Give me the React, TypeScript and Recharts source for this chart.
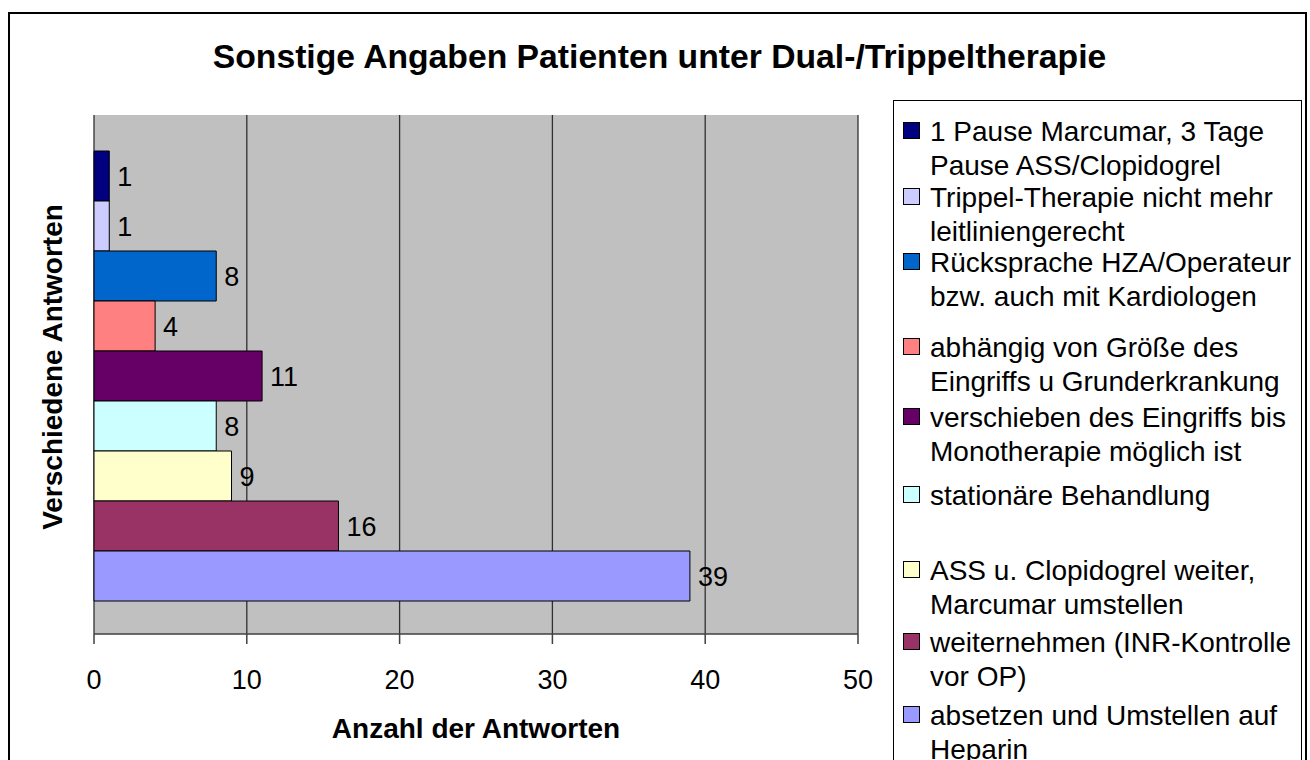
import { BarChart, Bar, XAxis, YAxis, CartesianGrid, LabelList } from 'recharts';

// chart data
const CATEGORIES = ['Verschiedene Antworten'];

const SERIES_NAMES = [
  '1 Pause Marcumar, 3 Tage Pause ASS/Clopidogrel',
  'Trippel-Therapie nicht mehr leitliniengerecht',
  'Rücksprache HZA/Operateur bzw. auch mit Kardiologen',
  'abhängig von Größe des Eingriffs u Grunderkrankung',
  'verschieben des Eingriffs bis Monotherapie möglich ist',
  'stationäre Behandlung',
  'ASS u. Clopidogrel weiter, Marcumar umstellen',
  'weiternehmen (INR-Kontrolle vor OP)',
  'absetzen und Umstellen auf Heparin',
];

// legend text as wrapped in the original
const LEGEND_LINES = [
  ['1 Pause Marcumar, 3 Tage', 'Pause ASS/Clopidogrel'],
  ['Trippel-Therapie nicht mehr', 'leitliniengerecht'],
  ['Rücksprache HZA/Operateur', 'bzw. auch mit Kardiologen'],
  ['abhängig von Größe des', 'Eingriffs u Grunderkrankung'],
  ['verschieben des Eingriffs bis', 'Monotherapie möglich ist'],
  ['stationäre Behandlung'],
  ['ASS u. Clopidogrel weiter,', 'Marcumar umstellen'],
  ['weiternehmen (INR-Kontrolle', 'vor OP)'],
  ['absetzen und Umstellen auf', 'Heparin'],
];

const SERIES_VALUES = [1, 1, 8, 4, 11, 8, 9, 16, 39];

const SERIES_COLORS = [
  '#000080',
  '#CCCCFF',
  '#0066CC',
  '#FF8080',
  '#660066',
  '#CCFFFF',
  '#FFFFCC',
  '#993366',
  '#9999FF',
];

const X_TICKS = [0, 10, 20, 30, 40, 50];

const TITLE = 'Sonstige Angaben Patienten unter Dual-/Trippeltherapie';
const X_TITLE = 'Anzahl der Antworten';
const Y_TITLE = 'Verschiedene Antworten';

// ---------------------------------------------------------------------------

const FONT = '"Liberation Sans", Arial, sans-serif';

// one row per category, one key per series
const data = CATEGORIES.map((name) => {
  const row: Record<string, string | number> = { name };
  SERIES_VALUES.forEach((v, i) => {
    row[`s${i}`] = v;
  });
  return row;
});

// first-line centre of each legend entry (px)
const LEGEND_TOPS = [131, 197, 262, 347, 417, 495, 570, 642, 715];
const LEGEND_LINE = 34;

function ChartLegend() {
  return (
    <g fontFamily={FONT} fontSize={28} fill="#000">
      <rect x={893.5} y={100.5} width={408} height={700} fill="#fff" stroke="#000" strokeWidth={1} />
      {LEGEND_LINES.map((lines, i) => {
        const cy = LEGEND_TOPS[i];
        return (
          <g key={SERIES_NAMES[i]}>
            <rect
              x={903.5}
              y={cy - 8.5}
              width={16}
              height={16}
              fill={SERIES_COLORS[i]}
              stroke="#000"
              strokeWidth={1}
            />
            {lines.map((line, j) => (
              <text key={j} x={930} y={cy + j * LEGEND_LINE + 10}>
                {line}
              </text>
            ))}
          </g>
        );
      })}
    </g>
  );
}

export default function App() {
  return (
    <div
      style={{
        position: 'absolute',
        left: 0,
        top: 0,
        width: 1310,
        height: 760,
        overflow: 'hidden',
        background: '#fff',
        fontFamily: FONT,
      }}
    >
      {/* outer chart frame, runs past the bottom edge */}
      <div
        style={{
          position: 'absolute',
          left: 8,
          top: 12,
          width: 1299,
          height: 820,
          border: '2px solid #000',
          boxSizing: 'border-box',
        }}
      />

      <div style={{ position: 'absolute', left: 0, top: 0 }}>
        <BarChart
          width={1310}
          height={760}
          data={data}
          layout="vertical"
          margin={{ top: 115, right: 452, bottom: 66, left: 94 }}
          barCategoryGap={36}
          barGap={0}
        >
          <CartesianGrid horizontal={false} stroke="#303030" strokeWidth={1.3} fill="#C0C0C0" fillOpacity={1} />
          <XAxis
            type="number"
            domain={[0, 50]}
            ticks={X_TICKS}
            height={60}
            axisLine={{ stroke: '#404040', strokeWidth: 1.5 }}
            tickLine={{ stroke: '#404040', strokeWidth: 1.5 }}
            tickSize={10}
            tickMargin={26}
            tick={{ fill: '#000', fontSize: 27, fontFamily: FONT }}
          />
          <XAxis
            xAxisId="top"
            orientation="top"
            type="number"
            domain={[0, 50]}
            height={0}
            tick={false}
            tickLine={false}
            axisLine={{ stroke: '#808080', strokeWidth: 1.3 }}
          />
          <YAxis
            type="category"
            dataKey="name"
            width={0}
            tick={false}
            tickLine={false}
            axisLine={{ stroke: '#808080', strokeWidth: 1.3 }}
          />
          <YAxis
            yAxisId="right"
            orientation="right"
            type="category"
            dataKey="name"
            width={0}
            tick={false}
            tickLine={false}
            axisLine={{ stroke: '#808080', strokeWidth: 1.3 }}
          />
          {SERIES_NAMES.map((name, i) => (
            <Bar
              key={name}
              name={name}
              dataKey={`s${i}`}
              fill={SERIES_COLORS[i]}
              stroke="#000"
              strokeWidth={1}
              isAnimationActive={false}
            >
              <LabelList
                dataKey={`s${i}`}
                position="right"
                offset={8}
                fill="#000"
                fontSize={27}
                fontFamily={FONT}
              />
            </Bar>
          ))}
        </BarChart>
      </div>

      {/* titles and legend */}
      <svg
        width={1310}
        height={760}
        style={{ position: 'absolute', left: 0, top: 0, pointerEvents: 'none' }}
      >
        <text x={659.5} y={68} textAnchor="middle" fontFamily={FONT} fontSize={33.7} fontWeight="bold">
          {TITLE}
        </text>
        <text x={476} y={738} textAnchor="middle" fontFamily={FONT} fontSize={28} fontWeight="bold">
          {X_TITLE}
        </text>
        <text
          x={62}
          y={367}
          transform="rotate(-90 62 367)"
          textAnchor="middle"
          fontFamily={FONT}
          fontSize={28}
          fontWeight="bold"
        >
          {Y_TITLE}
        </text>
        <ChartLegend />
      </svg>
    </div>
  );
}
